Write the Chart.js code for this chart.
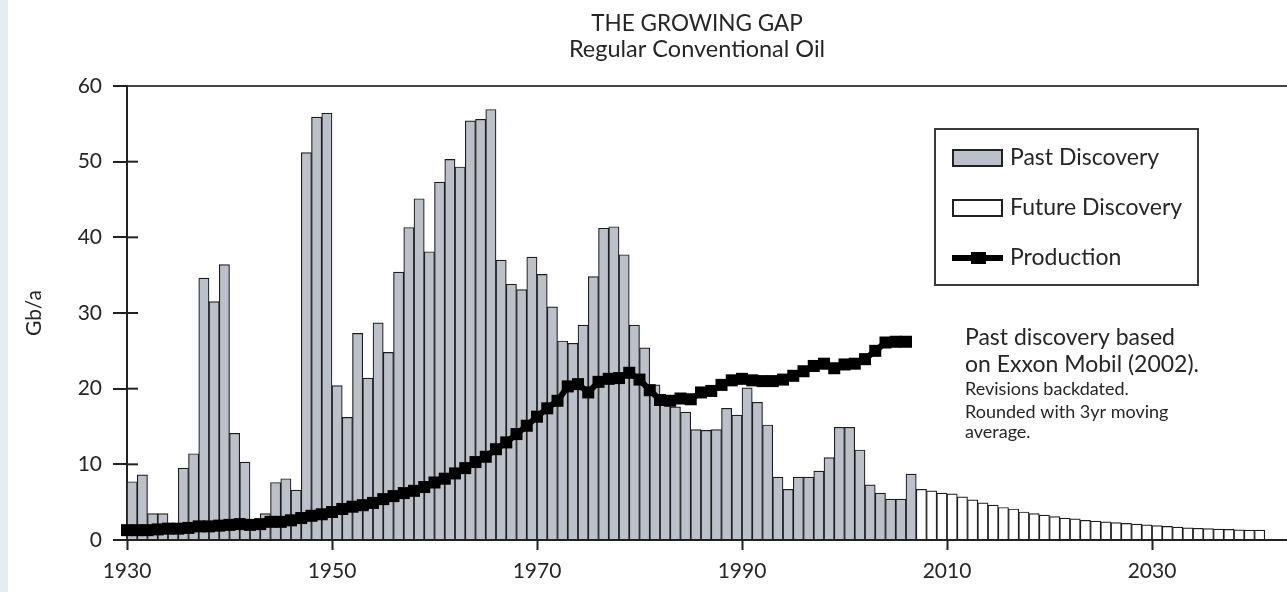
<!DOCTYPE html>
<html>
<head>
<meta charset="utf-8">
<title>The Growing Gap</title>
<script src="https://cdn.jsdelivr.net/npm/chart.js@4.4.1/dist/chart.umd.min.js"></script>
<style>
    html, body { margin: 0; padding: 0; background: #e4ecf6; overflow: hidden; }
    #wrap { position: absolute; left: 8px; top: 0; width: 1279px; height: 592px; background: #fff; }
</style>
</head>
<body>
<div id="wrap"><canvas id="gapChart" width="1279" height="592"></canvas></div>
<script>
// Datos (Gb/a por año)
const pastStartYear = 1930;   // 1930 - 2006
const futureStartYear = 2007; // 2007 - 2040
const productionStartYear = 1930;

const pastDiscovery = [
    7.7, 8.6, 3.5, 3.5, 1.8, 9.5, 11.4, 34.6, 31.5, 36.4,
    14.1, 10.3, 2.4, 3.5, 7.6, 8.1, 6.6, 51.2, 55.9, 56.4,
    20.4, 16.2, 27.3, 21.4, 28.7, 24.8, 35.4, 41.3, 45.1, 38.1,
    47.3, 50.3, 49.3, 55.4, 55.6, 56.9, 37.0, 33.8, 33.1, 37.4,
    35.1, 30.8, 26.3, 26.0, 28.4, 34.8, 41.2, 41.4, 37.7, 28.4,
    25.4, 20.5, 19.0, 17.6, 16.9, 14.6, 14.5, 14.6, 17.4, 16.5,
    20.1, 18.2, 15.2, 8.3, 6.7, 8.3, 8.3, 9.1, 10.9, 14.9,
    14.9, 11.9, 7.3, 6.2, 5.4, 5.4, 8.7
];

const futureDiscovery = [
    6.7, 6.5, 6.2, 6.1,
    5.7, 5.3, 4.9, 4.6, 4.3, 4.1, 3.7, 3.5, 3.3, 3.1,
    2.9, 2.8, 2.6, 2.5, 2.4, 2.3, 2.2, 2.1, 2.0, 1.9,
    1.8, 1.7, 1.6, 1.55, 1.5, 1.45, 1.4, 1.35, 1.3, 1.3
];

const production = [
    1.3, 1.3, 1.3, 1.4, 1.5, 1.5, 1.6, 1.8, 1.8, 1.9,
    2.0, 2.1, 2.0, 2.1, 2.4, 2.4, 2.6, 2.9, 3.2, 3.4,
    3.7, 4.1, 4.4, 4.6, 4.9, 5.4, 5.8, 6.2, 6.5, 7.0,
    7.6, 8.1, 8.8, 9.5, 10.3, 11.0, 12.0, 12.9, 14.0, 15.1,
    16.3, 17.4, 18.4, 20.3, 20.6, 19.5, 20.9, 21.3, 21.4, 22.1,
    21.2, 19.8, 18.5, 18.4, 18.7, 18.6, 19.5, 19.7, 20.5, 21.1,
    21.3, 21.1, 21.0, 21.0, 21.2, 21.7, 22.3, 23.0, 23.3, 22.7,
    23.2, 23.3, 23.9, 25.0, 26.1, 26.2, 26.2
];

const xTickYears = [1930, 1950, 1970, 1990, 2010, 2030];

const titleLines = ['THE GROWING GAP', 'Regular Conventional Oil'];
const noteBig = ['Past discovery based', 'on Exxon Mobil (2002).'];
const noteSmall = ['Revisions backdated.', 'Rounded with 3yr moving', 'average.'];

const FONT = 'Lato, "Open Sans", sans-serif';
const INK = '#262626';
const AXIS = '#222222';
const GRAY_BAR = '#bcc0c8';

// Cada barra ocupa el año completo [año, año+1)
const toBars = (values, start) => values.map((v, i) => ({ x: start + i + 0.5, y: v }));
const toLine = (values, start) => values.map((v, i) => ({ x: start + i, y: v }));

// Marcas internas del eje Y (cruzan el eje)
const innerTicks = {
    id: 'innerTicks',
    beforeDatasetsDraw(chart) {
        const { ctx, chartArea, scales } = chart;
        ctx.save();
        ctx.strokeStyle = AXIS;
        ctx.lineWidth = 2;
        scales.y.ticks.forEach(t => {
            if (t.value <= 0 || t.value >= 60) return;
            const y = scales.y.getPixelForValue(t.value);
            ctx.beginPath();
            ctx.moveTo(chartArea.left, y);
            ctx.lineTo(chartArea.left + 11, y);
            ctx.stroke();
        });
        ctx.restore();
    }
};

// Títulos y nota
const textBlocks = {
    id: 'textBlocks',
    afterDraw(chart) {
        const { ctx } = chart;
        ctx.save();
        ctx.fillStyle = INK;
        ctx.textAlign = 'center';
        ctx.textBaseline = 'alphabetic';
        ctx.font = `22.5px ${FONT}`;
        ctx.fillText(titleLines[0], 689, 31);
        ctx.font = `23.5px ${FONT}`;
        ctx.fillText(titleLines[1], 689, 57);

        ctx.textAlign = 'left';
        ctx.font = `23px ${FONT}`;
        ctx.fillText(noteBig[0], 957, 345);
        ctx.fillText(noteBig[1], 957, 372);
        ctx.font = `18px ${FONT}`;
        ctx.fillText(noteSmall[0], 957, 395);
        ctx.fillText(noteSmall[1], 957, 418);
        ctx.fillText(noteSmall[2], 957, 438);
        ctx.restore();
    }
};

// Leyenda en caja
const boxLegend = {
    id: 'boxLegend',
    afterDraw(chart) {
        const { ctx } = chart;
        const ds = chart.data.datasets;
        ctx.save();
        ctx.fillStyle = '#fff';
        ctx.fillRect(927, 129, 263, 156);
        ctx.strokeStyle = '#3a3a3a';
        ctx.lineWidth = 2;
        ctx.strokeRect(927, 129, 263, 156);

        const rows = [158, 208, 258];
        [ds[1], ds[2]].forEach((d, i) => {
            ctx.fillStyle = d.backgroundColor;
            ctx.fillRect(945, rows[i] - 8, 49, 16);
            ctx.strokeStyle = '#222';
            ctx.lineWidth = 2;
            ctx.strokeRect(945, rows[i] - 8, 49, 16);
        });
        ctx.strokeStyle = '#000';
        ctx.lineWidth = 6;
        ctx.beginPath();
        ctx.moveTo(944, rows[2]);
        ctx.lineTo(995, rows[2]);
        ctx.stroke();
        ctx.fillStyle = '#000';
        ctx.fillRect(963, rows[2] - 6, 15, 12);

        ctx.fillStyle = INK;
        ctx.font = `23px ${FONT}`;
        ctx.textAlign = 'left';
        ctx.textBaseline = 'middle';
        ctx.fillText(ds[1].label, 1002, rows[0]);
        ctx.fillText(ds[2].label, 1002, rows[1]);
        ctx.fillText(ds[0].label, 1002, rows[2]);
        ctx.restore();
    }
};

const ctx = document.getElementById('gapChart');

new Chart(ctx, {
    data: {
        datasets: [{
            type: 'line',
            label: 'Production',
            data: toLine(production, productionStartYear),
            borderColor: '#000',
            borderWidth: 6,
            pointStyle: 'rect',
            pointRadius: 8.5,
            pointBackgroundColor: '#000',
            pointBorderWidth: 0,
            tension: 0,
            clip: false,
            order: 0
        }, {
            type: 'bar',
            label: 'Past Discovery',
            data: toBars(pastDiscovery, pastStartYear),
            backgroundColor: GRAY_BAR,
            borderColor: '#1e1e1e',
            borderWidth: 1.2,
            grouped: false,
            barPercentage: 1,
            categoryPercentage: 1,
            order: 1
        }, {
            type: 'bar',
            label: 'Future Discovery',
            data: toBars(futureDiscovery, futureStartYear),
            backgroundColor: '#ffffff',
            borderColor: '#1e1e1e',
            borderWidth: 1.2,
            grouped: false,
            barPercentage: 1,
            categoryPercentage: 1,
            order: 2
        }]
    },
    options: {
        responsive: false,
        animation: false,
        layout: { autoPadding: false, padding: { top: 86, left: 0, right: 0, bottom: 0 } },
        plugins: {
            legend: { display: false },
            tooltip: { enabled: false }
        },
        scales: {
            x: {
                type: 'linear',
                min: 1930,
                max: 2043.17,
                offset: false,
                afterBuildTicks: s => { s.ticks = xTickYears.map(v => ({ value: v })); },
                afterFit: s => { s.height = 52; s.paddingLeft = 0; s.paddingRight = 0; },
                grid: { offset: false, drawOnChartArea: false, tickLength: 10, tickColor: AXIS, tickWidth: 2 },
                border: { color: AXIS, width: 2 },
                ticks: {
                    color: INK,
                    font: { family: FONT, size: 21 },
                    padding: 9,
                    maxRotation: 0,
                    autoSkip: false,
                    callback: v => String(v)
                }
            },
            y: {
                min: 0,
                max: 60,
                afterFit: s => { s.width = 119; },
                grid: {
                    color: c => (c.tick && c.tick.value === 60) ? '#444' : 'transparent',
                    tickColor: AXIS,
                    tickLength: 14,
                    lineWidth: 2,
                    tickWidth: 2
                },
                border: { color: AXIS, width: 2 },
                ticks: {
                    stepSize: 10,
                    color: INK,
                    padding: 11,
                    font: { family: FONT, size: 21 }
                },
                title: {
                    display: true,
                    text: 'Gb/a',
                    color: INK,
                    font: { family: FONT, size: 21 },
                    padding: { top: 14, bottom: 0 }
                }
            }
        }
    },
    plugins: [innerTicks, textBlocks, boxLegend]
});
</script>
</body>
</html>
